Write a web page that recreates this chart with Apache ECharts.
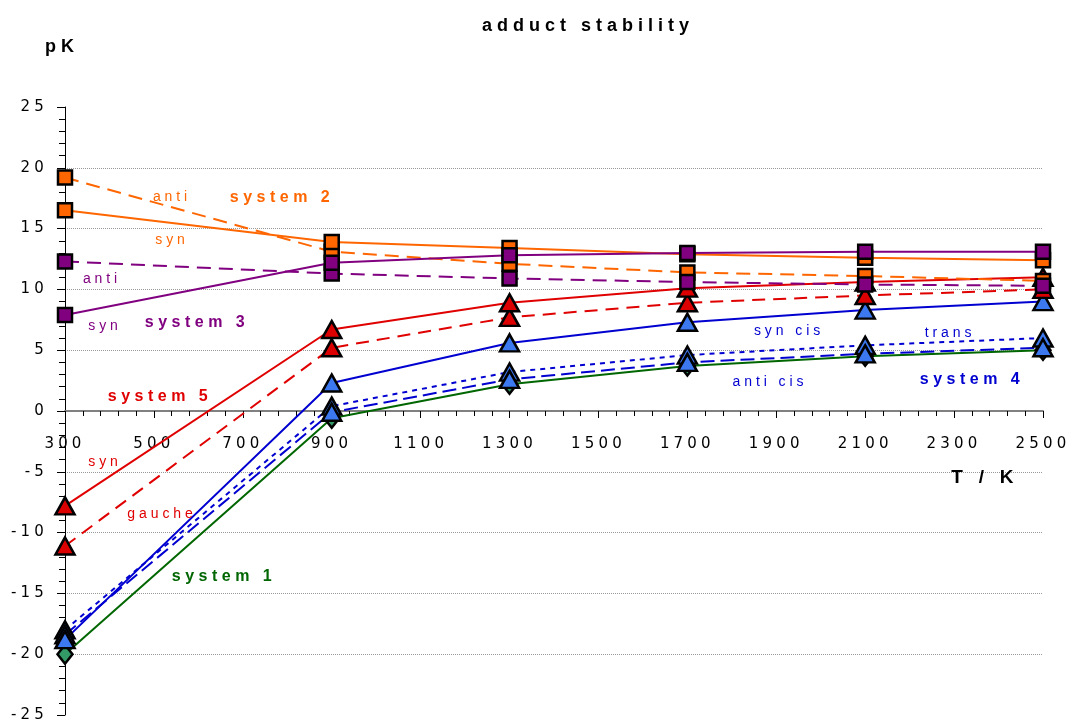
<!DOCTYPE html>
<html>
<head>
<meta charset="utf-8">
<title>adduct stability</title>
<script src="https://cdn.jsdelivr.net/npm/echarts@6.0.0/dist/echarts.min.js"></script>
<style>
    html, body { margin: 0; padding: 0; background: #fff; }
    #chart { width: 1068px; height: 725px; }
</style>
</head>
<body>
<div id="chart"></div>
<script>
// temperatures (T / K)
var temps = [300, 900, 1300, 1700, 2100, 2500];

// system 1
var sys1 = [-20.0, -0.6, 2.2, 3.7, 4.5, 5.0];
// system 2
var sys2Anti = [19.2, 13.1, 12.1, 11.4, 11.1, 10.7];
var sys2Syn = [16.5, 13.9, 13.4, 12.9, 12.6, 12.4];
// system 3
var sys3Anti = [12.3, 11.3, 10.9, 10.6, 10.4, 10.3];
var sys3Syn = [7.9, 12.2, 12.8, 13.0, 13.1, 13.1];
// system 4
var sys4Trans = [-18.0, 0.4, 3.2, 4.6, 5.4, 6.0];
var sys4AntiCis = [-18.4, -0.1, 2.6, 4.0, 4.7, 5.2];
var sys4SynCis = [-18.8, 2.3, 5.6, 7.3, 8.3, 9.0];
// system 5
var sys5Syn = [-7.8, 6.7, 8.9, 10.1, 10.6, 11.0];
var sys5Gauche = [-11.1, 5.2, 7.7, 8.9, 9.5, 10.0];

// the original chart uses wide letter spacing on every text
function spacingFor(font) {
    var m = /(\d+(?:\.\d+)?)px/.exec(font || "");
    return m ? (parseFloat(m[1]) * 0.28).toFixed(1) + "px" : "0px";
}
var fillTextOrig = CanvasRenderingContext2D.prototype.fillText;
CanvasRenderingContext2D.prototype.fillText = function () {
    this.letterSpacing = spacingFor(this.font);
    return fillTextOrig.apply(this, arguments);
};
var measureCtx = document.createElement("canvas").getContext("2d");
if (echarts.setPlatformAPI) {
    echarts.setPlatformAPI({
        measureText: function (text, font) {
            measureCtx.font = font || "12px sans-serif";
            measureCtx.letterSpacing = spacingFor(measureCtx.font);
            return measureCtx.measureText(text);
        }
    });
}

var ORANGE = "#FF6600", PURPLE = "#800080", RED = "#E00000", BLUE = "#0000D0", GREEN = "#006600";

function pairs(values) {
    return temps.map(function (t, i) { return [t, values[i]]; });
}

// line drawn below, markers on top of every line (like Excel)
var series = [];
function addSeries(name, values, color, dash, symbol, fill, size) {
    series.push({
        name: name,
        type: "line",
        data: pairs(values),
        symbol: "none",
        z: 2,
        lineStyle: { color: color, width: 2, type: dash }
    });
    series.push({
        name: name,
        type: "scatter",
        data: pairs(values),
        symbol: symbol,
        symbolSize: size,
        z: 3,
        itemStyle: { color: fill, borderColor: "#000", borderWidth: 2.5, opacity: 1 }
    });
}

addSeries("system 1", sys1, GREEN, "solid", "diamond", "#339966", [15, 19]);
addSeries("system 4 trans", sys4Trans, BLUE, [5, 5], "triangle", "#3C78F0", [19, 17]);
addSeries("system 4 anti cis", sys4AntiCis, BLUE, [14, 6], "triangle", "#3C78F0", [19, 17]);
addSeries("system 4 syn cis", sys4SynCis, BLUE, "solid", "triangle", "#3C78F0", [19, 17]);
addSeries("system 5 gauche", sys5Gauche, RED, [13, 8], "triangle", "#DD0000", [19, 17]);
addSeries("system 5 syn", sys5Syn, RED, "solid", "triangle", "#DD0000", [19, 17]);
addSeries("system 2 anti", sys2Anti, ORANGE, [14, 8], "rect", ORANGE, 14);
addSeries("system 2 syn", sys2Syn, ORANGE, "solid", "rect", ORANGE, 14);
addSeries("system 3 anti", sys3Anti, PURPLE, [14, 8], "rect", PURPLE, 14);
addSeries("system 3 syn", sys3Syn, PURPLE, "solid", "rect", PURPLE, 14);

// text labels placed on the plot
var notes = [
    ["adduct stability", 588, 26, "#000", "bold 18px 'Liberation Sans'"],
    ["pK", 62, 47, "#000", "bold 18px 'Liberation Sans'"],
    ["T / K", 985, 478, "#000", "bold 19px 'Liberation Sans'"],
    ["anti", 172, 197, ORANGE, "14px 'Liberation Sans'"],
    ["syn", 172, 240, ORANGE, "14px 'Liberation Sans'"],
    ["system 2", 282, 198, ORANGE, "bold 16px 'Liberation Sans'"],
    ["anti", 102, 279, PURPLE, "14px 'Liberation Sans'"],
    ["syn", 105, 326, PURPLE, "14px 'Liberation Sans'"],
    ["system 3", 197, 323, PURPLE, "bold 16px 'Liberation Sans'"],
    ["system 5", 160, 397, RED, "bold 16px 'Liberation Sans'"],
    ["syn", 105, 462, RED, "14px 'Liberation Sans'"],
    ["gauche", 162, 514, RED, "14px 'Liberation Sans'"],
    ["system 1", 224, 577, GREEN, "bold 16px 'Liberation Sans'"],
    ["syn cis", 789, 331, BLUE, "14px 'Liberation Sans'"],
    ["anti cis", 770, 382, BLUE, "14px 'Liberation Sans'"],
    ["trans", 950, 333, BLUE, "14px 'Liberation Sans'"],
    ["system 4", 972, 380, BLUE, "bold 16px 'Liberation Sans'"]
];

var myChart = echarts.init(document.getElementById("chart"));

var gridTop = 107, gridBottom = 10, plotH = 725 - gridTop - gridBottom;
var yMin = -25, yMax = 25;
// x axis sits on pK = 0: shift it up from the grid bottom
var zeroOffset = -plotH * (0 - yMin) / (yMax - yMin);

var option = {
    animation: false,
    backgroundColor: "#fff",
    grid: { left: 65, right: 25, top: gridTop, bottom: gridBottom, outerBoundsMode: "none", containLabel: false },
    xAxis: {
        type: "value",
        min: 300,
        max: 2500,
        interval: 200,
        position: "bottom",
        offset: zeroOffset,
        axisLine: { onZero: false, lineStyle: { color: "#808080", width: 2 } },
        axisTick: { show: true, length: 7, lineStyle: { color: "#000" } },
        minorTick: { show: true, splitNumber: 5, length: 5, lineStyle: { color: "#000" } },
        axisLabel: {
            color: "#000",
            fontSize: 15,
            fontFamily: "DejaVu Sans",
            margin: 24,
            showMinLabel: true,
            showMaxLabel: true,
            formatter: function (v) { return String(v); }
        },
        splitLine: { show: false }
    },
    yAxis: {
        type: "value",
        min: yMin,
        max: yMax,
        interval: 5,
        axisLine: { show: true, onZero: false, lineStyle: { color: "#000", width: 1 } },
        axisTick: { show: true, length: 8, lineStyle: { color: "#000" } },
        minorTick: { show: true, splitNumber: 5, length: 6, lineStyle: { color: "#000" } },
        axisLabel: { color: "#000", fontSize: 15, fontFamily: "DejaVu Sans", margin: 17 },
        splitLine: {
            show: true,
            showMinLine: false,
            showMaxLine: false,
            lineStyle: { color: "#999", type: "dotted", width: 1 }
        }
    },
    graphic: notes.map(function (n) {
        return {
            type: "text",
            x: n[1],
            y: n[2],
            z: 10,
            style: {
                text: n[0],
                fill: n[3],
                font: n[4],
                textAlign: "center",
                textVerticalAlign: "middle"
            }
        };
    }),
    series: series
};

myChart.setOption(option);
</script>
</body>
</html>
